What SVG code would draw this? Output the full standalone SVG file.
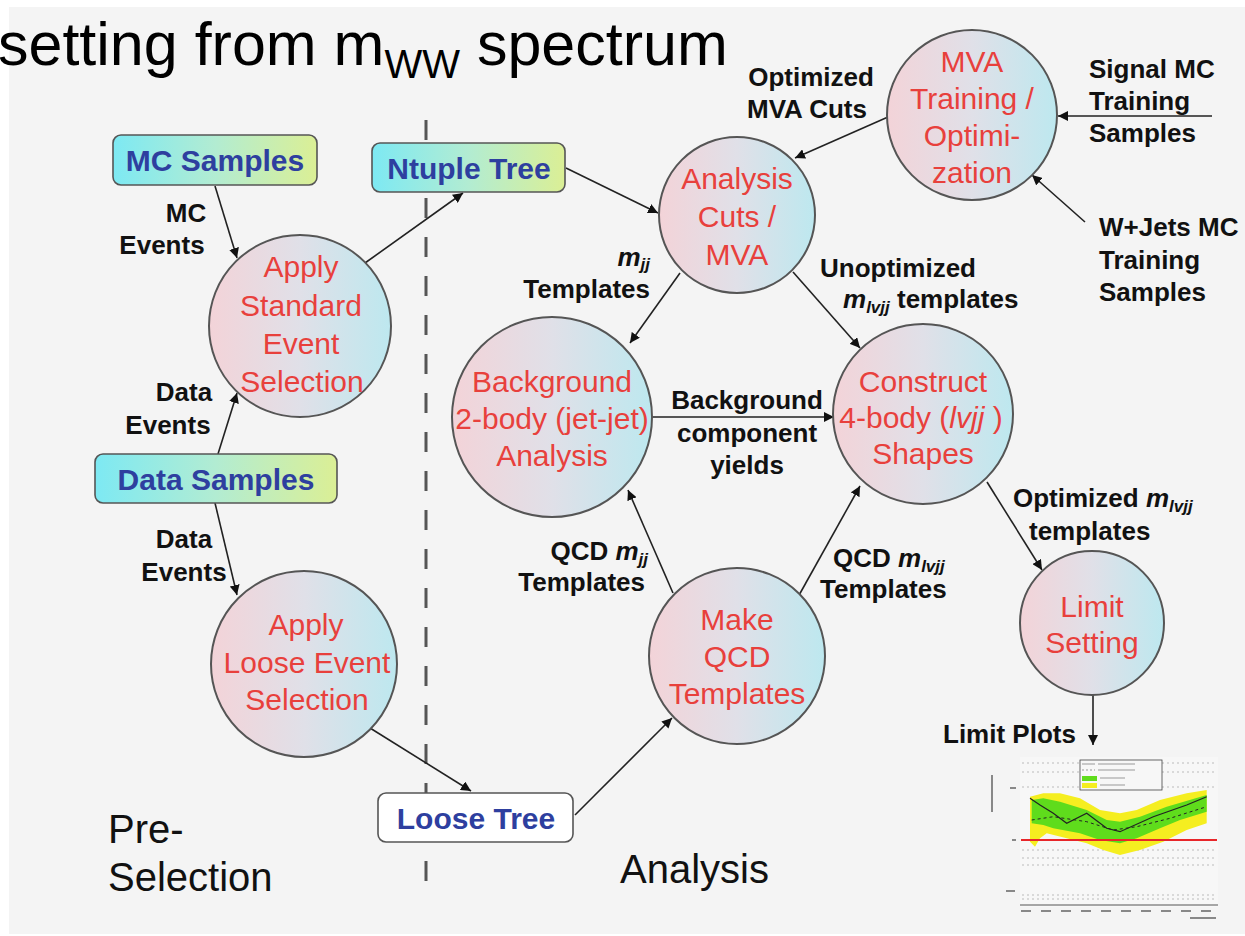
<svg xmlns="http://www.w3.org/2000/svg" width="1245" height="936" viewBox="0 0 1245 936">
<defs>
<linearGradient id="gc" x1="0" y1="0" x2="1" y2="0">
<stop offset="0" stop-color="#f3d3d8"/>
<stop offset="0.5" stop-color="#e0e0e8"/>
<stop offset="1" stop-color="#bde8ef"/>
</linearGradient>
<linearGradient id="gb" x1="0" y1="0" x2="1" y2="0">
<stop offset="0" stop-color="#7de9f3"/>
<stop offset="0.5" stop-color="#b2ecd2"/>
<stop offset="1" stop-color="#dbef95"/>
</linearGradient>
<marker id="ah" markerUnits="userSpaceOnUse" markerWidth="12" markerHeight="10" refX="10" refY="5" orient="auto">
<path d="M0,0 L10,5 L0,10 Z" fill="#111"/>
</marker>
<style>
.circ{fill:url(#gc);stroke:#555;stroke-width:2}
.box{fill:url(#gb);stroke:#555;stroke-width:1.6}
.ct{font-family:"Liberation Sans",Arial,sans-serif;font-size:30px;fill:#e8403c;text-anchor:middle}
.bt{font-family:"Liberation Sans",Arial,sans-serif;font-size:30px;font-weight:bold;fill:#2e3f9f;text-anchor:middle}
.lb{font-family:"Liberation Sans",Arial,sans-serif;font-size:26px;font-weight:bold;fill:#111}
.big{font-family:"Liberation Sans",Arial,sans-serif;font-size:40px;fill:#111}
.edge{stroke:#222;stroke-width:1.6;fill:none;marker-end:url(#ah)}
.it{font-style:italic}
.sub{font-size:17px;font-style:italic}
</style>
</defs>
<rect x="0" y="0" width="1245" height="936" fill="#ffffff"/>
<rect x="9" y="7" width="1236" height="927" fill="#f4f4f4"/>
<text x="-2" y="65" font-family="Liberation Sans, Arial, sans-serif" font-size="61" fill="#000">setting from m<tspan font-size="40" dy="13">WW</tspan><tspan dy="-13"> spectrum</tspan></text>

<line x1="426" y1="120" x2="426" y2="881" stroke="#555" stroke-width="3" stroke-dasharray="20 19"/>

<g id="connectors">
<line class="edge" x1="215" y1="186" x2="237" y2="258"/>
<line class="edge" x1="365" y1="263" x2="463" y2="193"/>
<line class="edge" x1="566" y1="168" x2="658" y2="213"/>
<line class="edge" x1="218" y1="454" x2="237" y2="393"/>
<line class="edge" x1="215" y1="503" x2="237" y2="595"/>
<line class="edge" x1="370" y1="728" x2="471" y2="791"/>
<line class="edge" x1="575" y1="815" x2="672" y2="718"/>
<line class="edge" x1="673" y1="593" x2="628" y2="490"/>
<line class="edge" x1="798" y1="597" x2="860" y2="486"/>
<line class="edge" x1="680" y1="273" x2="630" y2="343"/>
<line class="edge" x1="793" y1="272" x2="860" y2="348"/>
<line class="edge" x1="652" y1="417" x2="834" y2="417"/>
<line class="edge" x1="888" y1="117" x2="795" y2="158"/>
<line class="edge" x1="1212" y1="116" x2="1058" y2="116"/>
<line class="edge" x1="1085" y1="222" x2="1032" y2="175"/>
<line class="edge" x1="987" y1="482" x2="1042" y2="570"/>
<line class="edge" x1="1093" y1="695" x2="1093" y2="745"/>
</g>

<g id="mc-samples">
<rect class="box" x="113" y="135" width="204" height="50" rx="8"/>
<text class="bt" x="215" y="171">MC Samples</text>
</g>
<g id="ntuple-tree">
<rect class="box" x="372" y="143" width="193" height="49" rx="8"/>
<text class="bt" x="469" y="179">Ntuple Tree</text>
</g>
<g id="data-samples">
<rect class="box" x="95" y="454" width="242" height="49" rx="8"/>
<text class="bt" x="216" y="490">Data Samples</text>
</g>
<g id="loose-tree">
<rect x="378" y="793" width="195" height="49" rx="8" fill="#ffffff" stroke="#555" stroke-width="1.6"/>
<text class="bt" x="476" y="829">Loose Tree</text>
</g>

<g id="apply-standard">
<circle class="circ" cx="300" cy="326" r="91"/>
<text class="ct" x="301" y="277">Apply</text>
<text class="ct" x="301" y="316">Standard</text>
<text class="ct" x="301" y="354">Event</text>
<text class="ct" x="302" y="392">Selection</text>
</g>
<g id="apply-loose">
<circle class="circ" cx="304" cy="664" r="93"/>
<text class="ct" x="306" y="635">Apply</text>
<text class="ct" x="307" y="673">Loose Event</text>
<text class="ct" x="307" y="710">Selection</text>
</g>
<g id="analysis-cuts">
<circle class="circ" cx="737" cy="215" r="78"/>
<text class="ct" x="737" y="189">Analysis</text>
<text class="ct" x="737" y="227">Cuts /</text>
<text class="ct" x="737" y="265">MVA</text>
</g>
<g id="mva-training">
<circle class="circ" cx="972" cy="115" r="85"/>
<text class="ct" x="972" y="72">MVA</text>
<text class="ct" x="972" y="109">Training /</text>
<text class="ct" x="972" y="146">Optimi-</text>
<text class="ct" x="972" y="183">zation</text>
</g>
<g id="background-2body">
<circle class="circ" cx="552" cy="417" r="100"/>
<text class="ct" x="552" y="392">Background</text>
<text class="ct" x="552" y="429">2-body (jet-jet)</text>
<text class="ct" x="552" y="466">Analysis</text>
</g>
<g id="construct-4body">
<circle class="circ" cx="923" cy="414" r="90"/>
<text class="ct" x="923" y="392">Construct</text>
<text class="ct" x="921" y="428">4-body (<tspan class="it">lvjj</tspan> )</text>
<text class="ct" x="923" y="464">Shapes</text>
</g>
<g id="make-qcd">
<circle class="circ" cx="737" cy="656" r="88"/>
<text class="ct" x="737" y="630">Make</text>
<text class="ct" x="737" y="667">QCD</text>
<text class="ct" x="737" y="704">Templates</text>
</g>
<g id="limit-setting">
<circle class="circ" cx="1092" cy="623" r="72"/>
<text class="ct" x="1092" y="617">Limit</text>
<text class="ct" x="1092" y="653">Setting</text>
</g>

<g id="labels">
<text class="lb" x="186" y="222" text-anchor="middle">MC</text>
<text class="lb" x="162" y="254" text-anchor="middle">Events</text>
<text class="lb" x="184" y="401" text-anchor="middle">Data</text>
<text class="lb" x="168" y="434" text-anchor="middle">Events</text>
<text class="lb" x="184" y="548" text-anchor="middle">Data</text>
<text class="lb" x="184" y="581" text-anchor="middle">Events</text>
<text class="lb" x="811" y="86" text-anchor="middle">Optimized</text>
<text class="lb" x="807" y="118" text-anchor="middle">MVA Cuts</text>
<text class="lb" x="1089" y="78">Signal MC</text>
<text class="lb" x="1089" y="110">Training</text>
<text class="lb" x="1089" y="142">Samples</text>
<text class="lb" x="1099" y="236">W+Jets MC</text>
<text class="lb" x="1099" y="269">Training</text>
<text class="lb" x="1099" y="301">Samples</text>
<text class="lb" x="650" y="266" text-anchor="end"><tspan class="it">m</tspan><tspan class="sub" dy="4">jj</tspan></text>
<text class="lb" x="650" y="298" text-anchor="end">Templates</text>
<text class="lb" x="820" y="277">Unoptimized</text>
<text class="lb" x="843" y="308"><tspan class="it">m</tspan><tspan class="sub" dy="5">lvjj</tspan><tspan dy="-5"> templates</tspan></text>
<text class="lb" x="747" y="409" text-anchor="middle">Background</text>
<text class="lb" x="747" y="442" text-anchor="middle">component</text>
<text class="lb" x="747" y="474" text-anchor="middle">yields</text>
<text class="lb" x="648" y="560" text-anchor="end">QCD <tspan class="it">m</tspan><tspan class="sub" dy="5">jj</tspan></text>
<text class="lb" x="645" y="591" text-anchor="end">Templates</text>
<text class="lb" x="833" y="567">QCD <tspan class="it">m</tspan><tspan class="sub" dy="5">lvjj</tspan></text>
<text class="lb" x="820" y="598">Templates</text>
<text class="lb" x="1013" y="507">Optimized <tspan class="it">m</tspan><tspan class="sub" dy="5">lvjj</tspan></text>
<text class="lb" x="1029" y="540">templates</text>
<text class="lb" x="943" y="743">Limit Plots</text>
<text class="big" x="108" y="843">Pre-</text>
<text class="big" x="108" y="891">Selection</text>
<text class="big" x="620" y="883">Analysis</text>
</g>

<g id="limit-plot">
<rect x="1020" y="757" width="198" height="150" fill="#f7f7f7"/>
<g stroke="#bbb" stroke-width="1" stroke-dasharray="2 3">
<line x1="1022" y1="763" x2="1216" y2="763"/>
<line x1="1022" y1="772" x2="1216" y2="772"/>
<line x1="1022" y1="787" x2="1216" y2="787"/>
<line x1="1022" y1="850" x2="1216" y2="850"/>
<line x1="1022" y1="858" x2="1216" y2="858"/>
<line x1="1022" y1="865" x2="1216" y2="865"/>
<line x1="1022" y1="895" x2="1216" y2="895"/>
<line x1="1022" y1="899" x2="1216" y2="899"/>
</g>
<polygon fill="#f5ee20" points="1030,796.7 1043.3,793.3 1060,793.3 1080,798.3 1100,810 1120,813.3 1136.7,810 1160,800 1186.7,793.3 1206.7,790 1206.7,823.3 1186.7,830 1163.3,841.7 1140,850 1120,855 1103.3,850 1086.7,843.3 1066.7,838.3 1046.7,833.3 1040,838.3 1035,846.7 1030,841.7"/>
<polygon fill="#5fdc1c" points="1031.7,800 1043.3,798.3 1060,801.7 1086.7,810 1106.7,820 1120,821.7 1140,816.7 1166.7,806.7 1206.7,795 1206.7,811.7 1180,820 1160,828.3 1136.7,838.3 1120,843.3 1100,840 1080,833.3 1053.3,828.3 1043.3,825 1031.7,823.3"/>
<polyline fill="none" stroke="#222" stroke-width="1.2" points="1030,798.3 1040,805 1053.3,813.3 1066.7,823.3 1086.7,813.3 1106.7,828.3 1120,831.7 1153.3,816.7 1186.7,805 1206.7,796.7"/>
<polyline fill="none" stroke="#222" stroke-width="1" stroke-dasharray="3 3" points="1031.7,820 1053.3,816.7 1086.7,821.7 1113.3,830 1136.7,826.7 1170,818.3 1206.7,806.7"/>
<line x1="1021" y1="840" x2="1217" y2="840" stroke="#e8262a" stroke-width="2"/>
<rect x="1080" y="760" width="82" height="30" fill="#f7f7f7" stroke="#444" stroke-width="0.8"/>
<rect x="1082" y="776" width="15" height="5" fill="#5fdc1c"/>
<rect x="1082" y="783" width="15" height="5" fill="#f5ee20"/>
<g stroke="#999" stroke-width="1">
<line x1="1082" y1="764" x2="1095" y2="764"/>
<line x1="1098" y1="764" x2="1135" y2="764"/>
<line x1="1082" y1="770" x2="1095" y2="770" stroke-dasharray="2 2"/>
<line x1="1098" y1="770" x2="1135" y2="770"/>
<line x1="1100" y1="778" x2="1125" y2="778"/>
<line x1="1100" y1="785" x2="1125" y2="785"/>
</g>
<line x1="1020" y1="905" x2="1218" y2="905" stroke="#555" stroke-width="1"/>
<g stroke="#888" stroke-width="2">
<line x1="1021" y1="911" x2="1031" y2="911"/>
<line x1="1041" y1="911" x2="1051" y2="911"/>
<line x1="1061" y1="911" x2="1071" y2="911"/>
<line x1="1081" y1="911" x2="1091" y2="911"/>
<line x1="1101" y1="911" x2="1111" y2="911"/>
<line x1="1121" y1="911" x2="1131" y2="911"/>
<line x1="1141" y1="911" x2="1151" y2="911"/>
<line x1="1161" y1="911" x2="1171" y2="911"/>
<line x1="1181" y1="911" x2="1191" y2="911"/>
<line x1="1201" y1="911" x2="1211" y2="911"/>
<line x1="1190" y1="918" x2="1216" y2="918"/>
<line x1="992" y1="775" x2="992" y2="812"/>
<line x1="1010" y1="788" x2="1016" y2="788"/>
<line x1="1012" y1="840" x2="1016" y2="840"/>
<line x1="1006" y1="891" x2="1015" y2="891"/>
</g>
</g>
</svg>
